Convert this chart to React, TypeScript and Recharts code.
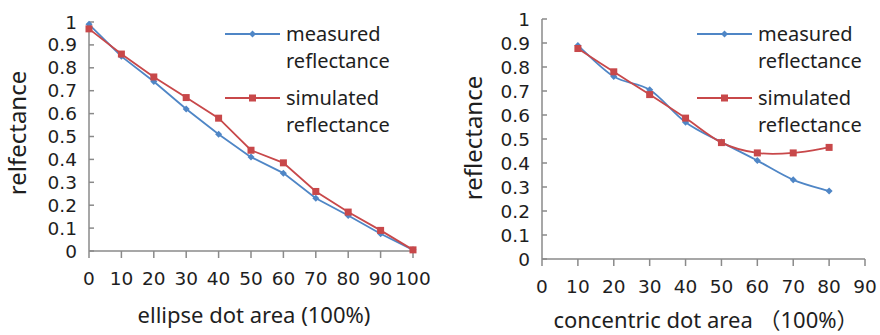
import { LineChart, Line, XAxis, YAxis, Legend } from "recharts";

const FONT = "'Noto Sans', 'Noto Sans CJK SC', sans-serif";
const TICK_FONT = "'DejaVu Sans', sans-serif";
const BLUE = "#4f86c6";
const RED = "#c8484a";
const AXIS = "#8a8a8a";
const INK = "#1e1e1e";

// left panel: ellipse dots
const ellipseArea = [0, 10, 20, 30, 40, 50, 60, 70, 80, 90, 100];
const ellipseMeasured = [0.99, 0.85, 0.74, 0.62, 0.51, 0.41, 0.34, 0.23, 0.155, 0.075, 0.005];
const ellipseSimulated = [0.97, 0.86, 0.76, 0.67, 0.58, 0.44, 0.385, 0.26, 0.17, 0.09, 0.005];

// right panel: concentric dots
const concentricArea = [10, 20, 30, 40, 50, 60, 70, 80];
const concentricMeasured = [0.89, 0.76, 0.705, 0.57, 0.487, 0.41, 0.33, 0.283];
const concentricSimulated = [0.877, 0.78, 0.685, 0.587, 0.485, 0.442, 0.442, 0.465];

const yTicks = [0, 0.1, 0.2, 0.3, 0.4, 0.5, 0.6, 0.7, 0.8, 0.9, 1];
const ellipseTicks = [0, 10, 20, 30, 40, 50, 60, 70, 80, 90, 100];
const concentricTicks = [0, 10, 20, 30, 40, 50, 60, 70, 80, 90];

const legendNames = [
  ["measured", "reflectance"],
  ["simulated", "reflectance"],
];

// Excel-style smoothed line (Catmull-Rom through the points)
function excelSmooth(context: any) {
  let pts: number[][] = [];
  return {
    areaStart() {},
    areaEnd() {},
    lineStart() {
      pts = [];
    },
    point(x: number, y: number) {
      pts.push([+x, +y]);
    },
    lineEnd() {
      const n = pts.length;
      if (!n) return;
      context.moveTo(pts[0][0], pts[0][1]);
      for (let i = 0; i < n - 1; i++) {
        const p0 = pts[Math.max(0, i - 1)];
        const p1 = pts[i];
        const p2 = pts[i + 1];
        const p3 = pts[Math.min(n - 1, i + 2)];
        context.bezierCurveTo(
          p1[0] + (p2[0] - p0[0]) / 6,
          p1[1] + (p2[1] - p0[1]) / 6,
          p2[0] - (p3[0] - p1[0]) / 6,
          p2[1] - (p3[1] - p1[1]) / 6,
          p2[0],
          p2[1]
        );
      }
    },
  };
}

function Diamond({ cx, cy, color }: { cx: number; cy: number; color: string }) {
  const r = 3.5;
  return <path d={`M${cx},${cy - r}L${cx + r},${cy}L${cx},${cy + r}L${cx - r},${cy}Z`} fill={color} />;
}

function Square({ cx, cy, color }: { cx: number; cy: number; color: string }) {
  const s = 7;
  return <rect x={cx - s / 2} y={cy - s / 2} width={s} height={s} fill={color} />;
}

function LegendBox() {
  return (
    <svg width={180} height={120} style={{ display: "block", overflow: "visible" }}>
      {legendNames.map((lines, i) => {
        const y = 14 + i * 64;
        const color = i === 0 ? BLUE : RED;
        return (
          <g key={i}>
            <line x1={0} x2={55} y1={y} y2={y} stroke={color} strokeWidth={1.8} />
            {i === 0 ? <Diamond cx={27.5} cy={y} color={color} /> : <Square cx={27.5} cy={y} color={color} />}
            {lines.map((t, j) => (
              <text key={j} x={61} y={y + j * 27 + 7} fontSize={20} fontFamily={FONT} fill={INK}>
                {t}
              </text>
            ))}
          </g>
        );
      })}
    </svg>
  );
}

function Panel({
  xs,
  measured,
  simulated,
  xTicks,
  yAxisWidth,
  margin,
  smooth,
  legendPos,
}: {
  xs: number[];
  measured: number[];
  simulated: number[];
  xTicks: number[];
  yAxisWidth: number;
  margin: { top: number; right: number; bottom: number; left: number };
  smooth: boolean;
  legendPos: { left: number; top: number };
}) {
  const data = xs.map((x, i) => ({ x, measured: measured[i], simulated: simulated[i] }));
  const tickStyle = { fill: INK, fontSize: 18.5, fontFamily: TICK_FONT };
  const curve: any = smooth ? excelSmooth : "linear";
  return (
    <LineChart width={440} height={335} data={data} margin={margin}>
      <XAxis
        dataKey="x"
        type="number"
        domain={[xTicks[0], xTicks[xTicks.length - 1]]}
        ticks={xTicks}
        interval={0}
        stroke={AXIS}
        strokeWidth={1.5}
        tickSize={7}
        tickMargin={14}
        tick={tickStyle}
        height={60}
      />
      <YAxis
        type="number"
        domain={[0, 1]}
        ticks={yTicks}
        interval={0}
        width={yAxisWidth}
        stroke={AXIS}
        strokeWidth={1.5}
        tickSize={-5}
        tickMargin={17}
        tick={tickStyle}
      />
      <Legend
        layout="horizontal"
        verticalAlign="middle"
        align="center"
        wrapperStyle={{ position: "absolute", left: legendPos.left, top: legendPos.top, width: 180 }}
        content={() => <LegendBox />}
      />
      <Line
        dataKey="measured"
        type={curve}
        stroke={BLUE}
        strokeWidth={1.8}
        dot={(p: any) => <Diamond key={`m${p.index}`} cx={p.cx} cy={p.cy} color={BLUE} />}
        activeDot={false}
        isAnimationActive={false}
      />
      <Line
        dataKey="simulated"
        type={curve}
        stroke={RED}
        strokeWidth={1.8}
        dot={(p: any) => <Square key={`s${p.index}`} cx={p.cx} cy={p.cy} color={RED} />}
        activeDot={false}
        isAnimationActive={false}
      />
    </LineChart>
  );
}

const titleStyle = {
  position: "absolute" as const,
  fontFamily: FONT,
  fontSize: 22,
  lineHeight: 1,
  color: INK,
  whiteSpace: "nowrap" as const,
  transform: "translate(-50%, -50%)",
};

const yTitleStyle = {
  ...titleStyle,
  fontSize: 24,
  transform: "translate(-50%, -50%) rotate(-90deg)",
};

export default function App() {
  return (
    <div style={{ position: "absolute", left: 0, top: 0, width: 880, height: 335, background: "#fff" }}>
      <div style={{ position: "absolute", left: 0, top: 0 }}>
        <Panel
          xs={ellipseArea}
          measured={ellipseMeasured}
          simulated={ellipseSimulated}
          xTicks={ellipseTicks}
          yAxisWidth={89}
          margin={{ top: 22, right: 27, bottom: 24, left: 0 }}
          smooth={false}
          legendPos={{ left: 225, top: 20 }}
        />
      </div>
      <div style={{ position: "absolute", left: 440, top: 0 }}>
        <Panel
          xs={concentricArea}
          measured={concentricMeasured}
          simulated={concentricSimulated}
          xTicks={concentricTicks}
          yAxisWidth={102}
          margin={{ top: 19, right: 15, bottom: 16, left: 0 }}
          smooth={true}
          legendPos={{ left: 257, top: 20 }}
        />
      </div>
      <div style={{ ...yTitleStyle, left: 17, top: 133 }}>relfectance</div>
      <div style={{ ...yTitleStyle, left: 473, top: 138 }}>reflectance</div>
      <div style={{ ...titleStyle, left: 254, top: 314 }}>ellipse dot area (100%)</div>
      <div style={{ ...titleStyle, left: 706, top: 319, height: 24, lineHeight: "24px" }}>
        concentric dot area （100%）
      </div>
    </div>
  );
}
